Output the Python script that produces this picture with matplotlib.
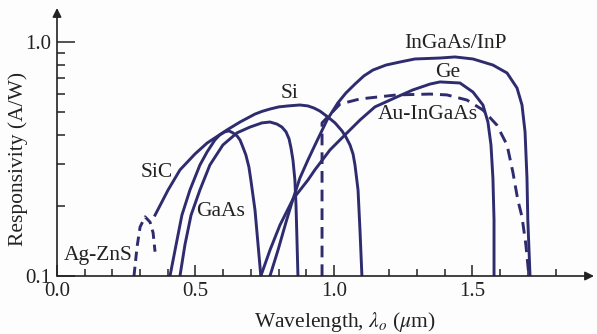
import matplotlib
matplotlib.use("Agg")
import matplotlib.pyplot as plt
from matplotlib.ticker import FixedLocator, NullFormatter

plt.rcParams["font.family"] = ["Liberation Serif", "DejaVu Serif"]
plt.rcParams["mathtext.fontset"] = "stix"

# values (wavelength in um, responsivity in A/W)
agzns_x = [0.278, 0.289, 0.300, 0.318, 0.336, 0.347, 0.354]
agzns_y = [0.1, 0.133, 0.162, 0.179, 0.170, 0.153, 0.127]

si_x = [0.354, 0.401, 0.444, 0.498, 0.542, 0.614, 0.661, 0.715, 0.740, 0.769,
        0.801, 0.834, 0.877, 0.906, 0.928, 0.949, 0.978, 1.004, 1.029, 1.043,
        1.058, 1.069, 1.076, 1.087, 1.094, 1.101]
si_y = [0.182, 0.233, 0.284, 0.332, 0.370, 0.421, 0.455, 0.492, 0.505, 0.517,
        0.528, 0.533, 0.538, 0.533, 0.522, 0.507, 0.478, 0.451, 0.417, 0.393,
        0.363, 0.332, 0.298, 0.233, 0.157, 0.1]

b_x = [0.408, 0.430, 0.451, 0.480, 0.516, 0.542, 0.570, 0.588, 0.606, 0.621,
       0.635, 0.650, 0.661, 0.671, 0.682, 0.693, 0.700, 0.715, 0.726, 0.736]
b_y = [0.1, 0.136, 0.182, 0.233, 0.298, 0.339, 0.381, 0.401, 0.413, 0.417,
       0.409, 0.397, 0.381, 0.356, 0.329, 0.292, 0.257, 0.191, 0.136, 0.1]

gaas_x = [0.444, 0.462, 0.484, 0.516, 0.552, 0.599, 0.650, 0.697, 0.740, 0.769,
          0.794, 0.812, 0.827, 0.838, 0.845, 0.852, 0.859, 0.863, 0.866, 0.870]
gaas_y = [0.1, 0.136, 0.182, 0.233, 0.298, 0.363, 0.409, 0.433, 0.451, 0.455,
          0.446, 0.433, 0.413, 0.385, 0.352, 0.313, 0.257, 0.201, 0.150, 0.1]

ingaas_x = [0.769, 0.798, 0.827, 0.852, 0.877, 0.906, 0.935, 0.975, 1.014, 1.043,
            1.076, 1.108, 1.141, 1.188, 1.238, 1.292, 1.383, 1.437, 1.502, 1.574,
            1.625, 1.661, 1.679, 1.690, 1.697, 1.700, 1.708]
ingaas_y = [0.1, 0.129, 0.170, 0.213, 0.262, 0.313, 0.370, 0.464, 0.549, 0.605,
            0.661, 0.716, 0.759, 0.797, 0.821, 0.846, 0.854, 0.863, 0.846, 0.797,
            0.737, 0.636, 0.538, 0.413, 0.262, 0.174, 0.1]

ge_x = [0.736, 0.769, 0.805, 0.852, 0.906, 0.931, 0.986, 1.040, 1.094, 1.148,
        1.227, 1.285, 1.347, 1.383, 1.455, 1.502, 1.538, 1.556, 1.567, 1.574,
        1.578, 1.578]
ge_y = [0.1, 0.129, 0.165, 0.213, 0.257, 0.284, 0.346, 0.401, 0.464, 0.528,
        0.582, 0.624, 0.661, 0.675, 0.668, 0.611, 0.538, 0.455, 0.363, 0.262,
        0.174, 0.1]

au_x = [0.957, 0.957, 1.022, 1.094, 1.227, 1.347, 1.408, 1.480, 1.538, 1.588,
        1.625, 1.646, 1.664, 1.679, 1.693, 1.704]
au_y = [0.1, 0.451, 0.543, 0.571, 0.594, 0.599, 0.594, 0.565, 0.512, 0.442,
        0.363, 0.278, 0.211, 0.179, 0.136, 0.1]

labels = ["Ag-ZnS", "SiC", "GaAs", "Si", "InGaAs/InP", "Ge", "Au-InGaAs"]
label_x = [0.148, 0.361, 0.592, 0.841, 1.437, 1.412, 1.339]
label_y = [0.122, 0.278, 0.188, 0.605, 0.981, 0.744, 0.488]

navy = "#2e2c6e"
ink = "#222222"

fig = plt.figure(figsize=(5.97, 3.34), dpi=100)
fig.patch.set_facecolor("#fdfdfd")
ax = fig.add_axes([57 / 597, 58 / 334, 537 / 597, 268 / 334])
ax.set_facecolor("#fdfdfd")

ax.set_yscale("log")
ax.set_xlim(0, 1.939)
ax.set_ylim(0.1, 1.397)

lw = 2.1
ax.plot(si_x, si_y, color=navy, lw=lw, solid_joinstyle="round")
ax.plot(b_x, b_y, color=navy, lw=lw, solid_joinstyle="round")
ax.plot(gaas_x, gaas_y, color=navy, lw=lw, solid_joinstyle="round")
ax.plot(ingaas_x, ingaas_y, color=navy, lw=lw, solid_joinstyle="round")
ax.plot(ge_x, ge_y, color=navy, lw=lw, solid_joinstyle="round")
ax.plot(agzns_x, agzns_y, color=navy, lw=lw, dashes=(3.2, 2.0))
ax.plot(au_x, au_y, color=navy, lw=lw, dashes=(4.0, 2.4))

for t, x, y in zip(labels, label_x, label_y):
    ax.text(x, y, t, ha="center", va="center", fontsize=15.5, color=ink)

# axes drawn as arrows
for s in ax.spines.values():
    s.set_visible(False)
arrow = dict(arrowstyle="-|>", color=ink, lw=1.2, mutation_scale=13,
             shrinkA=0, shrinkB=0)
ax.annotate("", xy=(1, 0), xytext=(0, 0), xycoords="axes fraction", arrowprops=arrow)
ax.annotate("", xy=(0, 1), xytext=(0, 0), xycoords="axes fraction", arrowprops=arrow)

ax.xaxis.set_major_locator(FixedLocator([0.0, 0.5, 1.0, 1.5]))
ax.xaxis.set_minor_locator(FixedLocator([i / 10 for i in range(1, 19) if i % 5]))
ax.set_xticklabels(["0.0", "0.5", "1.0", "1.5"])
ax.yaxis.set_major_locator(FixedLocator([0.1, 1.0]))
ax.yaxis.set_minor_locator(FixedLocator([0.2, 0.3, 0.4, 0.5, 0.6, 0.7, 0.8, 0.9]))
ax.yaxis.set_minor_formatter(NullFormatter())
ax.set_yticklabels(["0.1", "1.0"])

ax.tick_params(axis="x", which="major", direction="in", length=8, width=1.1,
               color=ink, labelsize=15, labelcolor=ink, pad=4)
ax.tick_params(axis="x", which="minor", direction="in", length=5, width=1.1, color=ink)
ax.tick_params(axis="y", which="major", direction="in", length=13, width=1.1,
               color=ink, labelsize=15, labelcolor=ink, pad=4)
ax.tick_params(axis="y", which="minor", direction="in", length=6, width=1.1, color=ink)

ax.set_xlabel(r"Wavelength, $\lambda_o$ ($\mu$m)", fontsize=15.5, color=ink)
ax.xaxis.set_label_coords(288 / 537, -0.125)
ax.set_ylabel("Responsivity (A/W)", fontsize=15.5, color=ink)
ax.yaxis.set_label_coords(-29 / 537, 117 / 268)

fig.savefig("out.png", dpi=100, facecolor=fig.get_facecolor())
